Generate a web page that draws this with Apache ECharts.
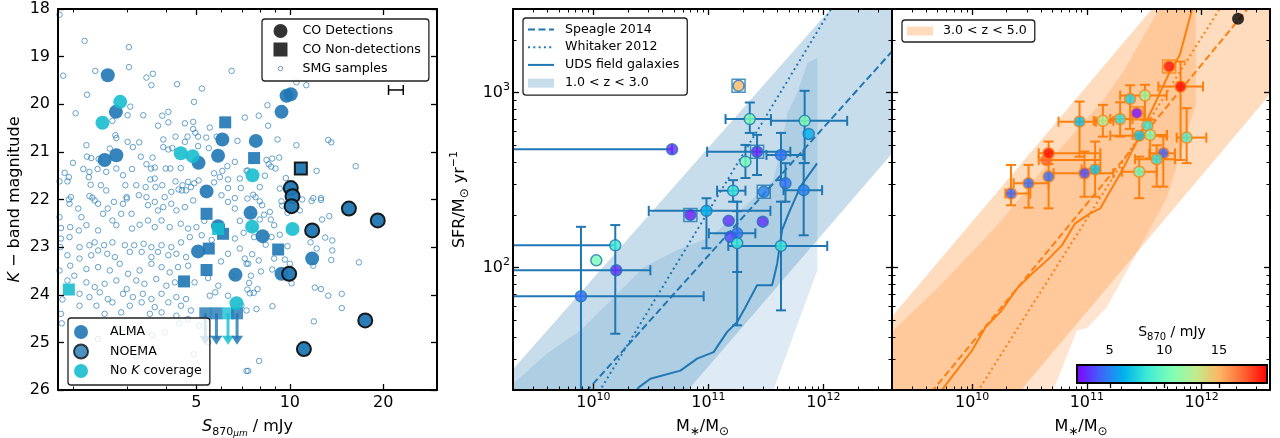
<!DOCTYPE html>
<html>
<head>
<meta charset="utf-8">
<script src="https://cdn.jsdelivr.net/npm/echarts@6.0.0/dist/echarts.min.js"></script>
<style>
html,body{margin:0;padding:0;background:#ffffff;}
#chart{width:1280px;height:438px;}
</style>
</head>
<body>
<div id="chart"></div>
<script>
// ======================= DATA =======================
// ---- left panel: K-band magnitude vs S870 (mJy) ----
const smgSamples = [
[1.81,18.12],[2.18,18.67],[3.03,18.8],[1.86,19.4],[2.36,19.3],[3.03,19.22],[3.45,19.44],[3.62,19.36],[3.58,19.6],[4.33,19.58],
[5.21,19.67],[6.49,19.3],[2.22,19.8],[4.91,19.95],[3.06,20.05],[2.04,20.19],[3.37,20.23],[3.88,20.24],[4.06,20.16],[3.76,20.45],
[4.06,20.38],[2.68,20.35],[3.0,20.23],[4.59,20.4],[4.88,20.37],[4.88,20.52],[5.52,20.49],[4.96,20.6],[2.74,20.65],[2.76,20.71],
[4.28,20.68],[4.68,20.68],[5.06,20.68],[5.38,20.7],[3.91,20.74],[4.59,20.79],[5.81,20.68],[6.78,20.77],[2.21,20.86],[3.0,20.79],
[3.27,20.8],[3.12,20.9],[2.63,20.93],[3.91,20.9],[4.06,20.95],[4.18,20.92],[5.06,20.88],[5.48,20.92],[2.22,21.1],[2.29,21.13],
[2.42,21.15],[3.31,21.1],[3.61,21.12],[2.0,21.23],[1.88,21.44],[1.94,21.53],[2.16,21.36],[2.26,21.42],[2.40,21.36],[2.25,21.53],
[2.56,21.42],[2.76,21.35],[3.10,21.36],[2.90,21.49],[3.45,21.26],[3.57,21.35],[3.67,21.33],[3.98,21.35],[4.12,21.35],[4.45,21.34],
[3.67,21.56],[3.55,21.58],[1.81,21.62],[1.92,21.62],[2.28,21.69],[2.46,21.7],[2.56,21.81],[2.95,21.7],[3.20,21.7],[3.43,21.74],
[3.69,21.74],[3.88,21.7],[4.28,21.62],[4.51,21.7],[4.49,21.81],[4.70,21.63],[4.92,21.66],[5.08,21.6],[5.70,21.64],[5.70,21.45],
[5.95,21.53],[6.32,21.58],[6.65,21.21],[6.29,21.3],[6.06,21.4],[6.90,21.56],[7.25,21.4],[6.32,21.76],[6.95,21.76],[1.97,21.95],
[2.26,21.93],[2.31,21.96],[2.98,21.95],[3.26,21.91],[3.45,21.95],[3.95,21.95],[4.15,21.84],[4.38,21.79],[4.63,21.81],[4.80,21.74],
[6.02,21.91],[6.65,21.97],[7.3,21.98],
[10.5,19.54],[11.3,19.6],[8.47,20.02],[7.94,20.24],[8.51,20.45],[7.16,20.28],[9.13,20.74],[10.5,20.86],[13.3,20.75],[13.6,20.8],
[8.41,21.17],[8.77,21.14],[9.24,21.12],[8.55,21.26],[8.99,21.35],[8.7,21.31],[12.2,21.4],[16.3,21.3],[8.31,21.5],[9.71,21.55],
[7.31,21.39],[8.0,21.74],[9.28,21.77],[11.9,21.97],[12.6,21.97],[7.62,21.9],[7.75,21.95],
[8.0,22.04],[8.14,22.12],[9.40,22.04],[9.45,22.13],[10.96,22.0],[11.75,22.03],[12.6,22.01],[10.77,22.23],[8.62,22.26],[8.26,22.32],
[8.0,22.42],[8.68,22.42],[8.9,22.54],[12.7,22.42],[13.4,22.35],[9.83,22.28],[7.67,22.61],[7.67,22.79],[8.73,22.79],[9.28,22.74],
[8.36,22.95],[9.83,22.98],[11.66,22.9],[13.0,22.8],[13.7,22.86],[12.2,23.03],[13.7,23.07],[7.56,23.15],[8.9,23.24],[9.64,23.26],
[10.0,23.35],[11.9,23.39],[13.6,23.27],[16.7,23.32],[7.34,23.35],[7.94,23.28],[8.07,23.51],[8.77,23.47],[10.13,23.76],[7.49,23.6],
[7.39,23.75],[7.3,23.89],[7.43,23.97],[7.65,23.96],[7.87,23.88],[12.04,23.85],[12.6,23.88],[13.3,24.02],[14.7,23.98],[14.7,24.28],
[7.25,24.33],[7.81,24.3],[8.79,24.24],[11.95,24.56],[7.96,25.39],[7.25,25.6],
[1.95,22.09],[2.08,22.19],[1.94,22.0],[2.35,22.02],[2.41,22.09],[2.71,22.05],[2.90,22.09],[2.98,21.98],[2.59,22.19],[2.5,22.3],
[2.86,22.3],[3.09,22.3],[3.49,22.12],[3.67,22.05],[3.76,22.23],[3.91,22.16],[4.15,22.09],[4.31,22.23],[4.59,22.16],[4.88,22.02],
[6.32,22.05],[6.65,22.19],[1.81,22.37],[2.13,22.37],[2.21,22.54],[1.96,22.58],[2.41,22.65],[2.68,22.44],[2.76,22.54],[3.1,22.61],
[3.28,22.53],[3.49,22.44],[3.67,22.58],[3.86,22.44],[4.10,22.58],[4.45,22.51],[4.70,22.61],[5.0,22.58],[1.83,22.82],[2.09,22.65],
[1.95,22.79],[2.10,23.0],[2.26,22.96],[2.35,22.9],[2.52,22.96],[2.68,22.9],[2.94,22.96],[3.15,22.96],[3.38,22.93],[3.58,23.0],
[3.86,22.96],[4.15,23.0],[4.46,22.9],[4.76,22.79],[6.65,22.82],[6.90,23.03],[1.92,23.17],[2.10,23.24],[2.29,23.17],[2.41,23.07],
[2.58,23.14],[2.73,23.21],[3.05,23.1],[3.33,23.1],[3.58,23.21],[3.76,23.1],[4.06,23.17],[4.31,23.14],[4.63,23.21],[6.32,23.14],
[7.16,23.24],[1.81,23.49],[1.96,23.39],[2.02,23.6],[2.21,23.46],[2.41,23.42],[2.63,23.49],[2.83,23.35],[3.01,23.56],[3.28,23.49],
[3.58,23.35],[3.86,23.42],[4.10,23.53],[4.36,23.42],[4.70,23.39],[7.25,23.35],[1.92,23.7],[2.21,23.74],[2.35,23.84],[2.53,23.77],
[2.76,23.7],[2.98,23.88],[3.20,23.7],[3.40,23.77],[3.71,23.67],[4.0,23.81],[4.26,23.74],[4.93,23.74],[5.88,23.81],[2.10,23.98],
[2.26,24.05],[2.44,23.95],[2.59,24.09],[2.90,23.98],[3.12,24.05],[3.36,23.98],[3.58,24.09],[3.86,23.98],[4.31,24.05],[4.63,24.09],
[5.52,24.02],[2.10,24.23],[2.38,24.23],[2.68,24.16],[3.05,24.23],[3.33,24.16],[3.67,24.26],[4.06,24.16],[4.46,24.23],[4.80,24.33],
[6.98,24.23],[1.83,24.4],[2.53,24.4],[2.86,24.37],[3.54,24.4],[3.86,24.37],[4.31,24.44],[4.70,24.51],[6.32,24.02],[3.95,24.79],
[2.41,24.93],[5.45,25.0],[7.34,25.6],[2.9,24.7],[3.6,24.85],[4.4,24.6],[2.2,25.2],[3.2,25.3],[5.1,24.65],[4.9,25.25],[2.7,25.5],
[4.2,25.55],[1.83,22.6],[1.82,23.0],[1.85,24.1],[1.84,24.6],[5.3,22.45],[5.6,22.85],[6.0,23.3],[6.5,23.6],[5.75,23.95],[6.9,22.45],
[7.1,22.7],[5.2,22.75],[5.45,23.65]
];
const almaDetections = [[2.59,19.39],[2.75,20.16],[2.53,21.17],[2.76,21.07],[5.08,21.23],[5.87,21.08],[6.06,20.74],[7.77,20.77],
[9.40,20.16],[9.76,19.82],[10.07,19.79],[5.39,21.83],[7.47,22.28],[5.87,22.56],[8.17,22.77],[5.06,23.09],[11.8,23.24],[6.68,23.58],[9.40,23.56]];
const noemaDetections = [[10.07,21.76],[10.2,21.93],[10.13,22.14],[15.5,22.19],[19.2,22.44],[11.8,22.65],[9.95,23.56],[17.5,24.54],[11.1,25.14]];
const noKDetections = [[2.84,19.95],[2.49,20.39],[4.45,21.03],[4.86,21.09],[7.58,21.49],[7.56,22.57],[10.2,22.62],[6.73,24.18]];
const almaNonDetections = [[6.19,20.38],[7.67,21.13],[5.39,22.3],[6.09,22.72],[9.17,23.05],[5.48,23.03],[5.39,23.48],[4.56,23.72]];
const noemaNonDetections = [[10.85,21.35]];
const noKNonDetections = [[5.87,22.62],[1.94,23.89]];
const upperLimitS = [5.34, 5.80, 6.32, 6.76];
const upperLimitNoK = [0, 0, 1, 0];
const upperLimitK = [24.39, 25.05];
const repErrorBar = [20.8, 23.2, 19.7];   // S low, S high, K
const sRange = [1.79, 29.8];
const kRange = [18, 26];
const sTickMajor = [5, 10, 20];
const sTickMinor = [2, 3, 4, 6, 7, 8, 9];
const kTicks = [18, 19, 20, 21, 22, 23, 24, 25, 26];

// ---- middle panel: SFR vs M* (1.0<z<3.0) ----
const midPoints = [ // [M*, SFR, S870]
[1.83e11,1092,15.0],[2.29e11,705,10.7],[6.87e11,689,10.7],[7.45e11,580,6.3],[4.83e10,474,2.9],[2.65e11,459,2.8],
[4.28e11,440,4.6],[2.10e11,403,10.4],[4.68e11,303,4.6],[6.74e11,277,5.0],[1.64e11,275,8.2],[3.03e11,271,5.0],
[9.62e10,211,6.3],[6.97e10,200,2.5],[1.50e11,185,3.0],[2.97e11,183,3.0],[1.78e11,157,4.6],[1.55e11,150,3.6],
[1.78e11,138,8.3],[4.28e11,133,8.3],[1.55e10,134,8.5],[1.06e10,110,10.4],[1.58e10,96.6,3.0],[7.8e9,68.6,4.6]];
const midSquares = [[1.83e11,1092],[2.65e11,459],[3.03e11,271],[6.97e10,200]];
const midErrX = [ // [M low, M high, SFR]
[1.41e11,3.5e11,705],[3.5e11,1.61e12,689],[1e9,4.83e10,474],[9.75e10,5.16e11,459],[3.2e11,6.7e11,440],
[4.5e11,9.75e11,277],[1.19e11,2.10e11,275],[3.03e10,3.46e11,211],[1.01e11,2.56e11,157],[1.49e11,1.08e12,133],
[1e9,1.55e10,134],[1e9,3.13e10,96.6],[1e9,9.1e10,68.6]];
const midErrY = [ // [M, SFR low, SFR high]
[2.29e11,588,877],[6.87e11,396,1023],[2.65e11,338,573],[4.28e11,316,588],[2.10e11,325,502],[4.68e11,238,395],
[6.74e11,153,395],[1.64e11,238,316],[9.62e10,129,249],[1.78e11,94.4,238],[1.78e11,46.8,210],[4.28e11,57,238],
[1.55e10,41.9,175],[7.8e9,5,171]];
const midSpeagle = [[8.6e9,19.5],[5.0e12,2040]];
const midWhitaker = [[1.12e10,19.5],[1.36e12,3550]];
const midUDS = [[2.3e10,19.3],[2.48e10,20.7],[3.13e10,23.2],[5.71e10,25.8],[7.98e10,30.2],[1.11e11,32.9],[1.45e11,42.8],
[1.78e11,48.9],[2.03e11,57.0],[2.65e11,79.3],[3.58e11,79.3],[3.96e11,105],[4.37e11,164],[4.99e11,204],[6.31e11,290],[8.81e11,394]];
const midBandMS = [[5.7e8,10.3],[1.27e13,17900],[1.27e13,1092],[1.15e10,5.25]];
const midBandUDS = [[1.55e9,18.6],[2.01e9,21.8],[3.98e9,32.4],[7.71e9,43.8],[1.41e10,65],[2.72e10,100],[5.37e10,126],
[1.04e11,149],[1.90e11,213],[3.67e11,316],[4.23e11,470],[4.86e11,765],[5.94e11,996],[7.26e11,1479],[8.87e11,1581],
[8.87e11,96.6],[3.67e11,19.9],[2.83e11,11.7],[1.55e9,11.7]];

// ---- right panel: SFR vs M* (3.0<z<5.0) ----
const rightPoints = [ // [M*, SFR, S870]
[5.22e11,1409,19.0],[6.56e11,1082,19.2],[3.21e11,961,11.5],[2.38e11,920,7.5],[2.72e11,762,2.3],[1.95e11,706,8.0],
[1.38e11,689,12.0],[8.63e10,682,6.7],[3.37e11,647,8.3],[2.86e11,567,6.8],[3.56e11,573,10.5],[7.41e11,553,9.0],
[4.43e10,412,17.2],[4.64e10,450,19.0],[4.64e11,450,4.2],[4.06e11,416,8.0],[1.18e11,364,6.8],[9.53e10,346,3.8],
[4.64e10,331,4.5],[2.86e11,353,10.0],[3.10e10,303,4.5],[2.18e10,265,4.3]];
const rightSquares = [[5.22e11,1409],[2.72e11,762]];
const rightBlack = [[2.08e12,2642]];
const rightErrX = [
[4.2e11,1.03e12,1082],[1.95e11,4.96e11,961],[1.6e11,2.5e11,706],[1.15e11,1.7e11,689],[5.66e10,1.2e11,682],
[1.6e11,4.96e11,567],[2.5e11,5.0e11,573],[6.07e11,1.10e12,553],[3.8e10,1.31e11,450],[3.8e10,1.31e11,412],
[3.5e11,5.86e11,450],[2.63e11,5.86e11,416],[9.0e10,1.31e11,364],[5.13e10,1.70e11,346],[2.02e11,4.06e11,353],
[2.30e10,4.64e10,303],[1.95e10,3.21e10,265]];
const rightErrY = [
[6.56e11,412,1503],[3.21e11,700,1107],[2.38e11,620,1100],[1.95e11,560,880],[1.38e11,560,850],[8.63e10,430,888],
[3.56e11,420,700],[7.41e11,395,814],[4.64e10,390,525],[4.64e11,290,560],[4.06e11,290,500],[1.18e11,254,525],
[9.53e10,254,460],[4.64e10,218,460],[2.86e11,249,430],[3.10e10,220,386],[2.18e10,227,386]];
const rightSpeagle = [[4.4e9,19.4],[2.7e12,3177]];
const rightWhitaker = [[1.11e10,19.5],[1.69e12,3550]];
const rightUDS = [[5.3e9,19.0],[5.66e9,20.7],[1.0e10,33.7],[1.31e10,45.8],[1.76e10,55.7],[2.46e10,75.9],[3.21e10,90.4],
[4.49e10,110],[6.06e10,134],[7.91e10,179],[1.07e11,204],[1.31e11,218],[2.08e11,369],[2.72e11,525],[4.06e11,908],
[5.30e11,1318],[6.47e11,1644],[8.18e11,2911],[8.9e11,3630]];
const rightBandMS = [[3.2e8,12.7],[5.3e13,1.41e5],[5.3e13,7360],[1.18e10,10.6]];
const rightBandUDS = [[1.59e9,36],[2.02e9,43.3],[5.3e9,79.3],[1.76e10,182],[4.8e10,412],[1.39e11,908],[2.07e11,1312],
[4.33e11,3055],[5.85e11,4420],[8.9e11,4420],[8.9e11,850],[4.96e11,249],[2.38e11,103],[1.49e11,59.3],[1.0e11,45],
[8.18e10,43.8],[5.09e10,19.9],[3.93e10,13.4],[1.59e9,13.4]];

const massRange = [2.0e9, 3.95e12];
const sfrRange = [20, 3000];
const massMajor = [1e10, 1e11, 1e12];
const massMinor = [2e9,3e9,4e9,5e9,6e9,7e9,8e9,9e9,2e10,3e10,4e10,5e10,6e10,7e10,8e10,9e10,2e11,3e11,4e11,5e11,6e11,7e11,8e11,9e11,2e12,3e12];
const sfrMajor = [100, 1000];
const sfrMinor = [20,30,40,50,60,70,80,90,200,300,400,500,600,700,800,900,2000,3000];
const cbarRange = [2.0, 19.4];
const cbarTicks = [5, 10, 15];

// ======================= STYLE / BUILD =======================
const FONT = 'DejaVu Sans';
const C0 = '#1f77b4', C1 = '#ff7f0e', CY = '#17becf';
const rainbow = ['#8000ff','#4062fa','#00b4eb','#40ecd4','#80ffb4','#c0ec8e','#ffb462','#ff6232','#ff0000'];
const L10 = Math.log10;
const within = (arr, r) => arr.filter(v => v >= r[0] - 1e-9 && v <= r[1] + 1e-9);

const grids = [
  {left: 58, top: 9, width: 379, height: 381, outerBoundsMode: 'none'},
  {left: 513, top: 9, width: 379, height: 381, outerBoundsMode: 'none'},
  {left: 892, top: 9, width: 378, height: 381, outerBoundsMode: 'none'},
  {left: 1077, top: 365, width: 190, height: 18, show: true, borderColor: '#000', borderWidth: 2,
   backgroundColor: {type: 'linear', x: 0, y: 0, x2: 1, y2: 0,
     colorStops: rainbow.map((c, i) => ({offset: i / (rainbow.length - 1), color: c}))},
   outerBoundsMode: 'none'}
];

const supRich = {
  b: {fontSize: 16, fontFamily: FONT, color: '#000', lineHeight: 22},
  s: {fontSize: 11, fontFamily: FONT, color: '#000', lineHeight: 11, verticalAlign: 'top'}
};
function baseAxis(gi, pos, range, inverse) {
  return {
    type: 'value', gridIndex: gi, position: pos, min: range[0], max: range[1], inverse: !!inverse,
    z: 10, silent: true,
    axisLine: {show: true, onZero: false, lineStyle: {color: '#000', width: 2}},
    axisLabel: {show: false}, splitLine: {show: false}, axisPointer: {show: false}
  };
}
function tickCfg(vals, len, w) {
  return {show: true, inside: true, length: len, customValues: vals, lineStyle: {color: '#000', width: w}};
}
function addAxes(list, gi, positions, range, major, minor, labelOpt, extra, inverse) {
  const idx = list.length;
  positions.forEach((pos, k) => {
    const a = baseAxis(gi, pos, range, inverse);
    a.axisTick = tickCfg(major, 6, 1.3);
    if (k === 0 && labelOpt) a.axisLabel = Object.assign({show: true, customValues: major}, labelOpt);
    if (k === 0 && extra) Object.assign(a, extra);
    list.push(a);
    if (minor && minor.length) {
      const m = baseAxis(gi, pos, range, inverse);
      m.axisLine = {show: false};
      m.axisTick = tickCfg(minor, 3.5, 1);
      list.push(m);
    }
  });
  return idx;
}

const xAxes = [], yAxes = [];
const lsRange = [L10(sRange[0]), L10(sRange[1])];
const lmRange = [L10(massRange[0]), L10(massRange[1])];
const lfRange = [L10(sfrRange[0]), L10(sfrRange[1])];
const logLabel = {margin: 3, formatter: v => '{b|10}{s|' + Math.round(v) + '}', rich: supRich};

// left panel axes
const xL = addAxes(xAxes, 0, ['bottom', 'top'], lsRange, sTickMajor.map(L10), within(sTickMinor, sRange).map(L10),
  {margin: 5, fontSize: 16, fontFamily: FONT, color: '#000', formatter: v => String(Math.round(Math.pow(10, v)))},
  {name: '{i|S}{sb|870}{sbs|μm}{n| / mJy}', nameLocation: 'middle', nameGap: 15,
   nameTextStyle: {fontSize: 16, fontFamily: FONT, color: '#000', lineHeight: 22, rich: {
     i: {fontSize: 16, fontStyle: 'italic', fontFamily: FONT, color: '#000', lineHeight: 22},
     n: {fontSize: 16, fontFamily: FONT, color: '#000', lineHeight: 22},
     sb: {fontSize: 11, fontFamily: FONT, color: '#000', lineHeight: 11, verticalAlign: 'bottom'},
     sbs: {fontSize: 9, fontStyle: 'italic', fontFamily: FONT, color: '#000', lineHeight: 8, verticalAlign: 'bottom'}}}});
const yL = addAxes(yAxes, 0, ['left', 'right'], kRange, kTicks, null,
  {margin: 8, fontSize: 16, fontFamily: FONT, color: '#000'},
  {name: '{i|K} − band magnitude', nameLocation: 'middle', nameGap: 29,
   nameTextStyle: {fontSize: 16, fontFamily: FONT, color: '#000', lineHeight: 22, rich: {
     i: {fontSize: 16, fontStyle: 'italic', fontFamily: FONT, color: '#000', lineHeight: 22}}}}, true);

const massName = {name: 'M{sb|∗}/M{sb|⊙}', nameLocation: 'middle', nameGap: 22,
  nameTextStyle: {fontSize: 16, fontFamily: FONT, color: '#000', lineHeight: 22, rich: {
    sb: {fontSize: 12, fontFamily: FONT, color: '#000', lineHeight: 12, verticalAlign: 'bottom'}}}};
// middle panel axes
const xM = addAxes(xAxes, 1, ['bottom', 'top'], lmRange, massMajor.map(L10), within(massMinor, massRange).map(L10),
  Object.assign({}, logLabel, {margin: 2}), massName);
const yM = addAxes(yAxes, 1, ['left', 'right'], lfRange, sfrMajor.map(L10), within(sfrMinor, sfrRange).map(L10),
  logLabel,
  {name: 'SFR/M{sb|⊙} yr{sp|−1}', nameLocation: 'middle', nameGap: 42,
   nameTextStyle: {fontSize: 16, fontFamily: FONT, color: '#000', lineHeight: 22, rich: {
     sb: {fontSize: 12, fontFamily: FONT, color: '#000', lineHeight: 12, verticalAlign: 'bottom'},
     sp: {fontSize: 11, fontFamily: FONT, color: '#000', lineHeight: 11, verticalAlign: 'top'}}}});
// right panel axes
const xR = addAxes(xAxes, 2, ['bottom', 'top'], lmRange, massMajor.map(L10), within(massMinor, massRange).map(L10),
  Object.assign({}, logLabel, {margin: 2}), massName);
const yR = addAxes(yAxes, 2, ['left', 'right'], lfRange, sfrMajor.map(L10), within(sfrMinor, sfrRange).map(L10), null, null);
// colorbar axes
const xC = xAxes.length;
xAxes.push({type: 'value', gridIndex: 3, position: 'top', min: cbarRange[0], max: cbarRange[1], z: 10, silent: true,
  axisLine: {show: false}, splitLine: {show: false},
  axisTick: {show: true, inside: true, length: 5, customValues: cbarTicks, lineStyle: {color: '#000', width: 1.3}},
  axisLabel: {show: true, customValues: cbarTicks, margin: 6, fontSize: 13, fontFamily: FONT, color: '#000', lineHeight: 16},
  name: 'S{sb|870} / mJy', nameLocation: 'middle', nameGap: 17,
  nameTextStyle: {fontSize: 14, fontFamily: FONT, color: '#000', lineHeight: 20, rich: {
    sb: {fontSize: 10, fontFamily: FONT, color: '#000', lineHeight: 10, verticalAlign: 'bottom'}}}});
const yC = yAxes.length;
yAxes.push({type: 'value', gridIndex: 3, min: 0, max: 1, show: false});

// ---------- series helpers ----------
const series = [];
function add(s) { series.push(s); return series.length - 1; }
function bandSeries(name, verts, color, xi, yi) {
  return {type: 'custom', name: name, xAxisIndex: xi, yAxisIndex: yi, clip: true, silent: true, z: 1,
    itemStyle: {color: color}, data: [[L10(verts[0][0]), L10(verts[0][1])]],
    renderItem: (p, api) => ({type: 'polygon',
      shape: {points: verts.map(v => api.coord([L10(v[0]), L10(v[1])]))}, style: {fill: color}})};
}
function lineSeries(name, pts, color, type, xi, yi) {
  return {type: 'line', name: name, xAxisIndex: xi, yAxisIndex: yi, symbol: 'none', showSymbol: false, silent: true,
    clip: true, z: 2, data: pts.map(p => [L10(p[0]), L10(p[1])]), color: color,
    lineStyle: {color: color, width: 2, type: type}, itemStyle: {color: color}};
}
function errX(rows, color, xi, yi, lw, cap) {
  return {type: 'custom', xAxisIndex: xi, yAxisIndex: yi, clip: true, silent: true, z: 3,
    encode: {x: [0, 1], y: 2}, data: rows,
    renderItem: (p, api) => {
      const a = api.coord([api.value(0), api.value(2)]), b = api.coord([api.value(1), api.value(2)]);
      const st = {stroke: color, lineWidth: lw};
      return {type: 'group', children: [
        {type: 'line', shape: {x1: a[0], y1: a[1], x2: b[0], y2: b[1]}, style: st},
        {type: 'line', shape: {x1: a[0], y1: a[1] - cap, x2: a[0], y2: a[1] + cap}, style: st},
        {type: 'line', shape: {x1: b[0], y1: b[1] - cap, x2: b[0], y2: b[1] + cap}, style: st}]};
    }};
}
function errY(rows, color, xi, yi, lw, cap) {
  return {type: 'custom', xAxisIndex: xi, yAxisIndex: yi, clip: true, silent: true, z: 3,
    encode: {x: 0, y: [1, 2]}, data: rows,
    renderItem: (p, api) => {
      const a = api.coord([api.value(0), api.value(1)]), b = api.coord([api.value(0), api.value(2)]);
      const st = {stroke: color, lineWidth: lw};
      return {type: 'group', children: [
        {type: 'line', shape: {x1: a[0], y1: a[1], x2: b[0], y2: b[1]}, style: st},
        {type: 'line', shape: {x1: a[0] - cap, y1: a[1], x2: a[0] + cap, y2: a[1]}, style: st},
        {type: 'line', shape: {x1: b[0] - cap, y1: b[1], x2: b[0] + cap, y2: b[1]}, style: st}]};
    }};
}
function scat(name, pts, opt, xi, yi, tf) {
  return Object.assign({type: 'scatter', name: name, xAxisIndex: xi, yAxisIndex: yi, silent: true,
    data: pts.map(tf)}, opt);
}
const tfS = p => [L10(p[0]), p[1]];
const tfM = p => [L10(p[0]), L10(p[1])];
const tfMC = p => [L10(p[0]), L10(p[1]), p[2]];

// ---------- left panel ----------
add(scat('smg', smgSamples, {symbol: 'circle', symbolSize: 5.5, z: 2,
  itemStyle: {color: 'rgba(255,255,255,0)', borderColor: C0, borderWidth: 1, opacity: 0.68}}, xL, yL, tfS));
add(scat('almaDet', almaDetections, {symbol: 'circle', symbolSize: 14, z: 4, itemStyle: {color: C0, opacity: 0.9}}, xL, yL, tfS));
add(scat('noKDet', noKDetections, {symbol: 'circle', symbolSize: 14, z: 4, itemStyle: {color: CY, opacity: 0.9}}, xL, yL, tfS));
add(scat('noemaDet', noemaDetections, {symbol: 'circle', symbolSize: 14, z: 4,
  itemStyle: {color: C0, opacity: 0.95, borderColor: '#111', borderWidth: 2}}, xL, yL, tfS));
add(scat('almaNon', almaNonDetections, {symbol: 'rect', symbolSize: 12, z: 4, itemStyle: {color: C0, opacity: 0.9}}, xL, yL, tfS));
add(scat('noKNon', noKNonDetections, {symbol: 'rect', symbolSize: 12, z: 4, itemStyle: {color: CY, opacity: 0.9}}, xL, yL, tfS));
add(scat('noemaNon', noemaNonDetections, {symbol: 'rect', symbolSize: 12, z: 4,
  itemStyle: {color: C0, opacity: 0.95, borderColor: '#111', borderWidth: 2}}, xL, yL, tfS));
add({type: 'custom', xAxisIndex: xL, yAxisIndex: yL, clip: true, silent: true, z: 4,
  encode: {x: 0, y: [1, 2]},
  data: upperLimitS.map((s, i) => [L10(s), upperLimitK[0], upperLimitK[1], upperLimitNoK[i]]),
  renderItem: (p, api) => {
    const a = api.coord([api.value(0), api.value(1)]), b = api.coord([api.value(0), api.value(2)]);
    const col = api.value(3) === 1 ? CY : C0;
    return {type: 'group', children: [
      {type: 'line', shape: {x1: a[0], y1: a[1], x2: b[0], y2: b[1] - 6}, style: {stroke: col, lineWidth: 3, opacity: 0.8}},
      {type: 'polygon', shape: {points: [[b[0] - 6, b[1] - 9], [b[0] + 6, b[1] - 9], [b[0], b[1]]]}, style: {fill: col, opacity: 0.85}},
      {type: 'rect', shape: {x: a[0] - 6, y: a[1] - 6, width: 12, height: 12}, style: {fill: col, opacity: 0.8}}]};
  }});
add(errX([[L10(repErrorBar[0]), L10(repErrorBar[1]), repErrorBar[2]]], '#000', xL, yL, 1.5, 5));
// legend-only series (left)
add({type: 'scatter', name: 'CO Detections', xAxisIndex: xL, yAxisIndex: yL, data: [], symbol: 'circle', itemStyle: {color: '#000'}});
add({type: 'scatter', name: 'CO Non-detections', xAxisIndex: xL, yAxisIndex: yL, data: [], symbol: 'rect', itemStyle: {color: '#000'}});
add({type: 'scatter', name: 'SMG samples', xAxisIndex: xL, yAxisIndex: yL, data: [], symbol: 'circle',
  itemStyle: {color: 'rgba(0,0,0,0)', borderColor: '#4f7fa8', borderWidth: 1}});
add({type: 'scatter', name: 'ALMA', xAxisIndex: xL, yAxisIndex: yL, data: [], itemStyle: {color: C0, opacity: 0.9}});
add({type: 'scatter', name: 'NOEMA', xAxisIndex: xL, yAxisIndex: yL, data: [], itemStyle: {color: C0, borderColor: '#111', borderWidth: 2}});
add({type: 'scatter', name: 'No K coverage', xAxisIndex: xL, yAxisIndex: yL, data: [], itemStyle: {color: CY, opacity: 0.9}});

// ---------- middle panel ----------
add(bandSeries('1.0 < z < 3.0', midBandMS, 'rgba(31,119,180,0.25)', xM, yM));
add(bandSeries('udsBandMid', midBandUDS, 'rgba(31,119,180,0.15)', xM, yM));
add(lineSeries('Speagle 2014', midSpeagle, C0, [7, 3.5], xM, yM));
add(lineSeries('Whitaker 2012', midWhitaker, C0, [2, 3.3], xM, yM));
add(lineSeries('UDS field galaxies', midUDS, C0, 'solid', xM, yM));
add(errX(midErrX.map(r => [L10(r[0]), L10(r[1]), L10(r[2])]), C0, xM, yM, 2, 5));
add(errY(midErrY.map(r => [L10(r[0]), L10(r[1]), L10(r[2])]), C0, xM, yM, 2, 5));
add(scat('midSq', midSquares, {symbol: 'rect', symbolSize: 13, z: 4,
  itemStyle: {color: 'rgba(0,0,0,0)', borderColor: C0, borderWidth: 1.5}}, xM, yM, tfM));
const iMidPts = add(scat('midPts', midPoints, {symbol: 'circle', symbolSize: 11, z: 5,
  itemStyle: {borderColor: C0, borderWidth: 1.5}}, xM, yM, tfMC));

// ---------- right panel ----------
add(bandSeries('3.0 < z < 5.0', rightBandMS, 'rgba(255,127,14,0.27)', xR, yR));
add(bandSeries('udsBandRight', rightBandUDS, 'rgba(255,127,14,0.2)', xR, yR));
add(lineSeries('spR', rightSpeagle, C1, [7, 3.5], xR, yR));
add(lineSeries('whR', rightWhitaker, C1, [2, 3.3], xR, yR));
add(lineSeries('udsR', rightUDS, C1, 'solid', xR, yR));
add(errX(rightErrX.map(r => [L10(r[0]), L10(r[1]), L10(r[2])]), C1, xR, yR, 2, 5));
add(errY(rightErrY.map(r => [L10(r[0]), L10(r[1]), L10(r[2])]), C1, xR, yR, 2, 5));
add(scat('rightSq', rightSquares, {symbol: 'rect', symbolSize: 13, z: 4,
  itemStyle: {color: 'rgba(0,0,0,0)', borderColor: C1, borderWidth: 1.5}}, xR, yR, tfM));
const iRightPts = add(scat('rightPts', rightPoints, {symbol: 'circle', symbolSize: 11, z: 5,
  itemStyle: {borderColor: C1, borderWidth: 1.5}}, xR, yR, tfMC));
add(scat('rightBlack', rightBlack, {symbol: 'circle', symbolSize: 12, z: 5, itemStyle: {color: '#000'}}, xR, yR, tfM));

// ---------- legends ----------
const SMALL_CIRCLE = 'path://M0,0M20,20M13.2,10A3.2,3.2,0,1,1,6.8,10A3.2,3.2,0,1,1,13.2,10Z';
const PATCH = 'path://M0,0M26,14M0,2.5L26,2.5L26,11.5L0,11.5Z';
const NO_SYMBOL = {color: 'rgba(0,0,0,0)', borderColor: 'rgba(0,0,0,0)', borderWidth: 0, opacity: 0};
const legBase = {orient: 'vertical', selectedMode: false, z: 20, backgroundColor: 'rgba(255,255,255,0.8)',
  borderColor: '#222', borderWidth: 1.3, borderRadius: 3};
const legText = pad => ({fontSize: 12.6, fontFamily: FONT, color: '#000', padding: [0, 0, 0, pad],
  rich: {i: {fontSize: 12.6, fontStyle: 'italic', fontFamily: FONT, color: '#000'}}});
const legends = [
  Object.assign({}, legBase, {left: 262, top: 19, itemWidth: 14, itemHeight: 14, itemGap: 4.5, padding: [5, 8, 5, 11],
    textStyle: legText(10),
    data: [{name: 'CO Detections', icon: 'circle', itemStyle: {color: '#000'}},
           {name: 'CO Non-detections', icon: 'rect', itemStyle: {color: '#000'}},
           {name: 'SMG samples', icon: SMALL_CIRCLE, itemStyle: {color: 'rgba(0,0,0,0)', borderColor: '#4f7fa8', borderWidth: 1}}]}),
  Object.assign({}, legBase, {left: 68, top: 318, itemWidth: 14, itemHeight: 14, itemGap: 4.5, padding: [7, 8, 7, 5],
    textStyle: legText(17), formatter: n => n === 'No K coverage' ? 'No {i|K} coverage' : n,
    data: [{name: 'ALMA', icon: 'circle', itemStyle: {color: C0, opacity: 0.9}},
           {name: 'NOEMA', icon: 'circle', itemStyle: {color: C0, borderColor: '#111', borderWidth: 2}},
           {name: 'No K coverage', icon: 'circle', itemStyle: {color: CY, opacity: 0.9}}]}),
  Object.assign({}, legBase, {left: 523, top: 18, itemWidth: 26, itemHeight: 14, itemGap: 4.7, padding: [5, 8, 5, 4],
    textStyle: legText(6),
    data: [{name: 'Speagle 2014', itemStyle: NO_SYMBOL}, {name: 'Whitaker 2012', itemStyle: NO_SYMBOL},
           {name: 'UDS field galaxies', itemStyle: NO_SYMBOL},
           {name: '1.0 < z < 3.0', icon: PATCH}]}),
  Object.assign({}, legBase, {left: 902, top: 20, itemWidth: 26, itemHeight: 14, padding: [4, 8, 4, 5],
    textStyle: legText(5), data: [{name: '3.0 < z < 5.0', icon: PATCH}]})
];

const option = {
  animation: false,
  backgroundColor: '#ffffff',
  textStyle: {fontFamily: FONT, color: '#000'},
  grid: grids,
  xAxis: xAxes,
  yAxis: yAxes,
  legend: legends,
  visualMap: [{type: 'continuous', show: false, min: cbarRange[0], max: cbarRange[1], dimension: 2,
    seriesIndex: [iMidPts, iRightPts], inRange: {color: rainbow}}],
  series: series
};
const chart = echarts.init(document.getElementById('chart'), null, {renderer: 'canvas'});
chart.setOption(option);
</script>
</body>
</html>
